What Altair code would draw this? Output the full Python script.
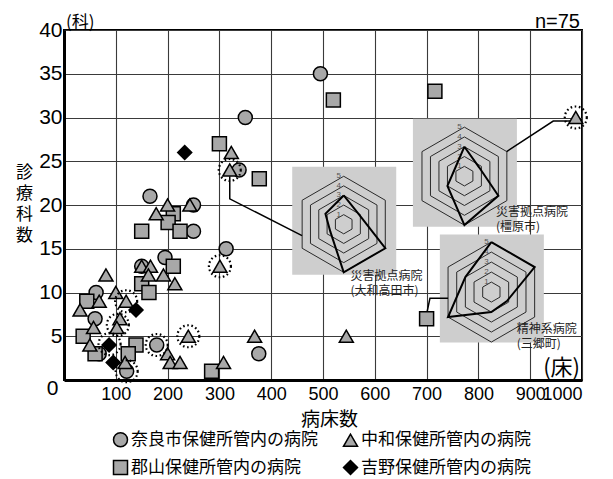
import math
import altair as alt
import pandas as pd

# ---------------- scatter data (beds, departments) ----------------
groups = ["奈良市保健所管内の病院", "郡山保健所管内の病院", "中和保健所管内の病院", "吉野保健所管内の病院"]

nara_beds = [495, 350, 338, 166, 250, 250, 313, 195, 150, 62, 60, 68, 179, 376, 121]
nara_depts = [35, 30, 24, 21, 20, 17, 15, 14, 13, 10, 7, 3, 4, 3, 1]

koriyama_beds = [300, 520, 716, 377, 211, 201, 150, 224, 211, 150, 164, 44, 37, 60, 139, 124, 285, 700]
koriyama_depts = [27, 32, 33, 23, 19, 18, 17, 17, 13, 11, 10, 9, 5, 3, 4, 3, 1, 7]

chuwa_beds = [988, 323, 320, 200, 178, 243, 301, 150, 167, 163, 192, 214, 81, 68, 100,
              120, 31, 108, 57, 102, 50, 240, 368, 545, 200, 205, 224, 118, 308]
chuwa_depts = [30, 26, 24, 20, 19, 20, 13, 13, 13, 12, 12, 11, 12, 9, 10,
               9, 8, 7, 6, 6, 4, 5, 5, 5, 3, 2, 2, 2, 2]

yoshino_beds = [233, 139, 87, 95]
yoshino_depts = [26, 8, 4, 2]

# highlighted hospitals (dotted rings)
ring_beds = [988, 320, 301, 240, 179, 121, 120, 104, 88]
ring_depts = [30, 24, 13, 5, 4, 1, 9, 6.3, 4.1]

# ---------------- radar insets ----------------
radar_titles = ["災害拠点病院\n(大和高田市)", "災害拠点病院\n(橿原市)", "精神系病院\n(三郷町)"]
# axis order: top, upper-right, lower-right, bottom, lower-left, upper-left
radar_values = [
    [3, 1.9, 5, 5, 1.6, 2.2],
    [3, 1.75, 4, 5, 2, 1.2],
    [5, 5, 1.8, 2, 5, 3],
]
ring_levels = [1, 2, 3, 4, 5]
# inset centres in data coordinates (beds, departments)
inset_cx = [540, 773, 825]
inset_cy = [17.8, 23.3, 10.05]
# labels' anchor (beds, departments)
label_x = [553, 834, 874]
label_y = [12.5, 19.8, 6.45]
# connector paths (beds, departments)
connectors = [
    [(320, 23.3), (320, 20.7), (459.5, 16.5)],
    [(982, 29.6), (944.5, 29.6), (854.5, 26.1)],
    [(701, 7.8), (706.5, 9.35), (741.5, 9.35)],
]

# ---------------- layout helpers ----------------
W, H = 518, 350
XU = 1000 / W   # beds per pixel
YU = 40 / H     # departments per pixel
UNIT_PX = [9.6, 9.8, 10.0]
BOX_HW, BOX_HH = 52, 54

pts = pd.DataFrame(
    [dict(g=groups[0], x=a, y=b) for a, b in zip(nara_beds, nara_depts)]
    + [dict(g=groups[1], x=a, y=b) for a, b in zip(koriyama_beds, koriyama_depts)]
    + [dict(g=groups[2], x=a, y=b) for a, b in zip(chuwa_beds, chuwa_depts)]
    + [dict(g=groups[3], x=a, y=b) for a, b in zip(yoshino_beds, yoshino_depts)]
)
rings_df = pd.DataFrame(dict(x=ring_beds, y=ring_depts))

hex_rows, poly_rows, rl_rows, box_rows = [], [], [], []
for i in range(3):
    cx, cy, u = inset_cx[i], inset_cy[i], UNIT_PX[i]
    box_rows.append(dict(x=cx + (0.5 - BOX_HW) * XU, x2=cx + (0.5 + BOX_HW) * XU,
                         y=cy + (3.5 - BOX_HH) * YU, y2=cy + (3.5 + BOX_HH) * YU))
    for k in ring_levels:
        for j in range(7):
            a = math.radians(60 * j)
            hex_rows.append(dict(key=f"{i}-{k}", idx=j,
                                 x=cx + k * u * math.sin(a) * XU,
                                 y=cy + k * u * math.cos(a) * YU))
        rl_rows.append(dict(x=cx - 5 * XU, y=cy + k * u * YU, t=str(k)))
    for j in range(7):
        a = math.radians(60 * j)
        v = radar_values[i][j % 6]
        poly_rows.append(dict(key=str(i), idx=j,
                              x=cx + v * u * math.sin(a) * XU,
                              y=cy + v * u * math.cos(a) * YU))
hex_df = pd.DataFrame(hex_rows)
poly_df = pd.DataFrame(poly_rows)
rl_df = pd.DataFrame(rl_rows)
box_df = pd.DataFrame(box_rows)
conn_df = pd.DataFrame([dict(key=str(c), idx=j, x=p[0], y=p[1])
                        for c, path in enumerate(connectors) for j, p in enumerate(path)])
lab_df = pd.DataFrame(dict(x=label_x, y=label_y, t=radar_titles))

# ---------------- scales / axes ----------------
CJK = "Noto Sans CJK JP"
xs = alt.Scale(domain=[0, 1000], nice=False, zero=False)
ys = alt.Scale(domain=[0, 40], nice=False, zero=False)
xa = alt.Axis(values=list(range(0, 1001, 100)), grid=True, ticks=False, tickSize=0, format="d",
              labelExpr="datum.value == 0 ? '' : datum.label", labelOverlap=False,
              labelFont="Liberation Sans", labelFontSize=18, labelColor="black", labelPadding=5,
              title="病床数", titleFont=CJK, titleFontSize=19, titleFontWeight="normal",
              titleColor="black", titleX=265, titleY=39, titleAlign="center",
              titleBaseline="middle")
ya = alt.Axis(values=list(range(0, 41, 5)), grid=True, ticks=False, tickSize=0,
              labelFont="Liberation Sans", labelFontSize=21, labelColor="black", labelOverlap=False,
              labelPadding={"condition": {"test": "datum.value === 0", "value": 6}, "value": 2},
              labelOffset={"condition": {"test": "datum.value === 0", "value": 8}, "value": 0},
              title=["診", "療", "科", "数"], titleAngle=0, titleFont=CJK, titleFontSize=17,
              titleFontWeight="normal", titleColor="black", titleLineHeight=21,
              titleX=-40, titleY=134, titleAlign="center", titleBaseline="top")


def X(f="x"):
    return alt.X(f"{f}:Q", scale=xs, axis=xa)


def Y(f="y"):
    return alt.Y(f"{f}:Q", scale=ys, axis=ya)


boxes = alt.Chart(box_df).mark_rect(fill="#cecece").encode(
    x=X(), x2="x2:Q", y=Y(), y2="y2:Q")

hexes = alt.Chart(hex_df).mark_line(color="#2a2a2a", strokeWidth=1).encode(
    x=X(), y=Y(), detail="key:N", order=alt.Order("idx:Q"))

ring_labels = alt.Chart(rl_df).mark_text(font="Liberation Sans", fontSize=8, color="#555",
                                         align="center", baseline="middle").encode(
    x=X(), y=Y(), text="t:N")

polys = alt.Chart(poly_df).mark_line(color="black", strokeWidth=2).encode(
    x=X(), y=Y(), detail="key:N", order=alt.Order("idx:Q"))

conns = alt.Chart(conn_df).mark_line(color="black", strokeWidth=1.5).encode(
    x=X(), y=Y(), detail="key:N", order=alt.Order("idx:Q"))

legend = alt.Legend(title=None, orient="none", legendX=48, legendY=401, columns=2,
                    direction="vertical",
                    columnPadding=22, rowPadding=7,
                    labelFont=CJK, labelFontSize=17, labelColor="black", labelOffset=2,
                    labelLimit=400,
                    symbolSize=256, symbolStrokeColor="black", symbolStrokeWidth=1.5)

points = alt.Chart(pts).mark_point(filled=True, stroke="black", strokeWidth=1.5, opacity=1).encode(
    x=X(), y=Y(),
    shape=alt.Shape("g:N", scale=alt.Scale(domain=groups,
                                           range=["circle", "square", "triangle-up", "diamond"]),
                    legend=legend),
    color=alt.Color("g:N", scale=alt.Scale(domain=groups,
                                           range=["#a8a8a8", "#a8a8a8", "#a8a8a8", "black"]),
                    legend=legend),
    size=alt.Size("g:N", scale=alt.Scale(domain=groups, range=[196, 196, 256, 169]), legend=None),
)

dotted = alt.Chart(rings_df).mark_point(shape="circle", size=484, filled=False, stroke="black",
                                        strokeWidth=2.2, strokeDash=[1.6, 2.6], opacity=1).encode(
    x=X(), y=Y())

labels = alt.Chart(lab_df).mark_text(font=CJK, fontSize=12, color="#222", align="left",
                                     baseline="top", lineBreak="\n", lineHeight=15.5).encode(
    x=X(), y=Y(), text="t:N")

corner = pd.DataFrame(dict(x=[0, 1000, 1000], y=[40, 40, 0], t=["(科)", "n=75", "(床)"]))
ka = alt.Chart(corner.iloc[[0]]).mark_text(font=CJK, fontSize=17, color="black", align="left",
                                            baseline="alphabetic", dx=2, dy=-2).encode(
    x=X(), y=Y(), text="t:N")
nn = alt.Chart(corner.iloc[[1]]).mark_text(font="Liberation Sans", fontSize=20, color="black",
                                            align="right", baseline="alphabetic", dx=-2, dy=-2).encode(
    x=X(), y=Y(), text="t:N")
sho = alt.Chart(corner.iloc[[2]]).mark_text(font=CJK, fontSize=22, color="black", align="right",
                                             baseline="alphabetic", dx=-2, dy=-5).encode(
    x=X(), y=Y(), text="t:N")

chart = alt.layer(boxes, hexes, ring_labels, polys, conns, points, dotted, labels, ka, nn, sho).properties(
    width=W, height=H,
    autosize=alt.AutoSizeParams(type="none"),
    padding={"left": 56, "top": 22, "right": 20, "bottom": 100},
).configure_view(stroke="black", strokeWidth=2).configure_axis(
    domainColor="black", domainWidth=3, gridColor="#3a3a3a", gridWidth=1.1, gridOpacity=1
)

chart.save("out.html", embed_options={"renderer": "svg", "actions": False})
